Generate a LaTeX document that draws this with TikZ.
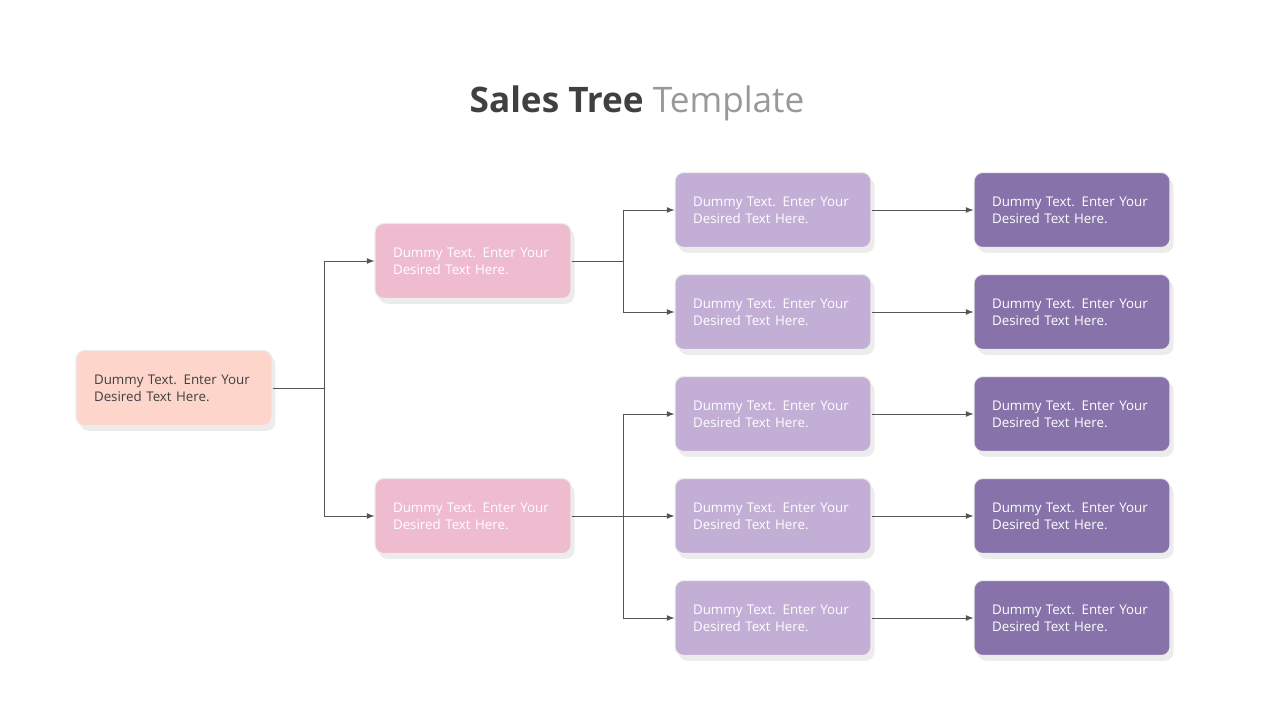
\documentclass[tikz,border=0pt]{standalone}
\usepackage{fontspec}
\setmainfont{Open Sans}
\usetikzlibrary{shadows}

\definecolor{rootcol}{HTML}{FDD5CA}
\definecolor{midcol}{HTML}{EFBBCF}
\definecolor{leafcol}{HTML}{C3AED6}
\definecolor{endcol}{HTML}{8773A9}
\definecolor{linecol}{HTML}{555555}

\tikzset{
    box/.style={rounded corners=5pt, minimum width=3.92cm, minimum height=1.5cm,
        text width=3.2cm, align=left, font=\fontsize{7.6}{9.6}\selectfont,
        draw=white!85!gray, line width=0.6pt,
        drop shadow={shadow xshift=2pt, shadow yshift=-3pt, opacity=0.12, fill=black!60}},
    link/.style={draw=linecol, line width=0.5pt, -latex}
}

\begin{document}
\begin{tikzpicture}[x=0.02cm, y=-0.02cm]
    \useasboundingbox (0,0) rectangle (1280,720);

    % Title
    \node (title) at (637,103) {\fontsize{20}{24}\selectfont\textbf{\color{black!75}Sales Tree} \color{black!40}Template};

    % The boxes
    \node[box, fill=rootcol, text=black!75] (root) at (174,388) {Dummy Text. Enter Your Desired Text Here.};
    \node[box, fill=midcol, text=white] (upper) at (473,261) {Dummy Text. Enter Your Desired Text Here.};
    \node[box, fill=midcol, text=white] (lower) at (473,516) {Dummy Text. Enter Your Desired Text Here.};

    \foreach \i/\y in {1/210,2/312,3/414,4/516,5/618}
    {
        \node[box, fill=leafcol, text=white] (leaf\i) at (773,\y) {Dummy Text. Enter Your Desired Text Here.};
        \node[box, fill=endcol, text=white] (end\i) at (1072,\y) {Dummy Text. Enter Your Desired Text Here.};
        \draw[link] (leaf\i) -- (end\i);
    }

    % The connectors
    \draw[link] (root.east) -| (324,261) -- (upper.west);
    \draw[link] (root.east) -| (324,516) -- (lower.west);
    \draw[link] (upper.east) -| (623,210) -- (leaf1.west);
    \draw[link] (upper.east) -| (623,312) -- (leaf2.west);
    \draw[link] (lower.east) -| (623,414) -- (leaf3.west);
    \draw[link] (lower.east) -- (leaf4.west);
    \draw[link] (lower.east) -| (623,618) -- (leaf5.west);
\end{tikzpicture}
\end{document}
